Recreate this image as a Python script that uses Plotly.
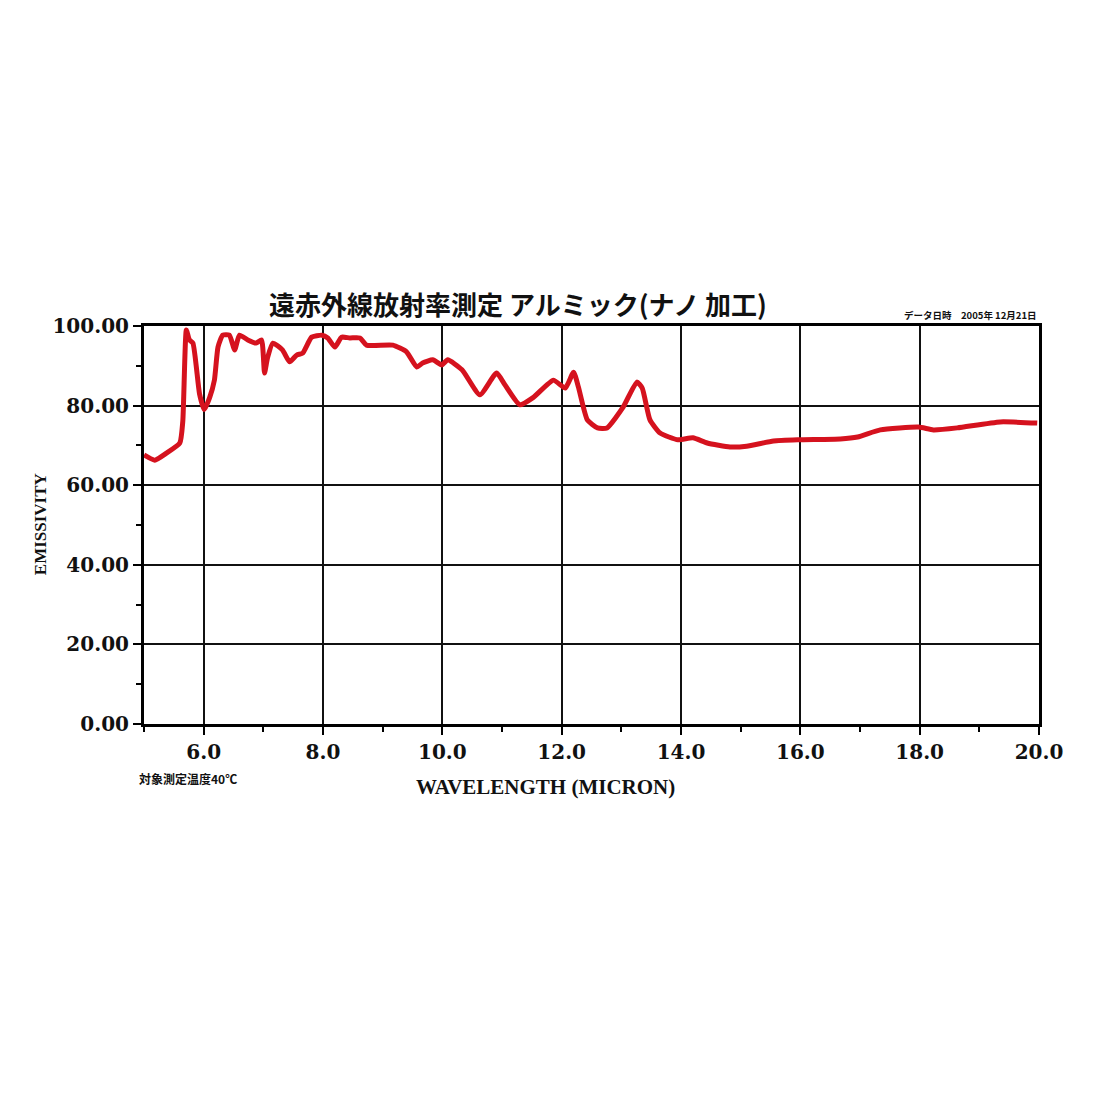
import plotly.graph_objects as go

wavelength = [5.0, 5.18, 5.37, 5.6, 5.65, 5.71, 5.76, 5.82, 5.93, 6.01, 6.1, 6.18, 6.24, 6.32, 6.43,
              6.52, 6.6, 6.74, 6.88, 6.97, 7.02, 7.07, 7.16, 7.32, 7.44, 7.56, 7.66, 7.81, 7.98, 8.08,
              8.2, 8.31, 8.45, 8.62, 8.73, 9.17, 9.4, 9.57, 9.67, 9.84, 9.99, 10.09, 10.33, 10.63, 10.91,
              11.05, 11.3, 11.52, 11.86, 12.06, 12.2, 12.28, 12.43, 12.6, 12.76, 13.03, 13.26, 13.35, 13.48,
              13.65, 13.95, 14.2, 14.44, 14.82, 15.1, 15.55, 15.97, 16.67, 16.96, 17.34, 17.98, 18.23, 18.63,
              19.35, 19.97]
emissivity = [67.6, 66.3, 68, 70.6, 76, 99, 96.5, 95.7, 83, 79, 82, 86.4, 94.7, 97.7, 97.7,
              94, 97.7, 96.5, 95.7, 96.5, 88.2, 92, 95.7, 94, 91, 92.7, 93.2, 97.2, 97.7, 97,
              94.7, 97.2, 97, 97, 95.2, 95.2, 93.5, 89.7, 90.7, 91.5, 90.2, 91.5, 89, 82.7, 88.2,
              85.2, 80.2, 82, 86.4, 84.4, 88.4, 84.7, 76.4, 74.4, 74.4, 79.6, 85.9, 84.4, 76.4,
              73.1, 71.4, 71.9, 70.6, 69.6, 69.8, 71.1, 71.4, 71.6, 72.1, 73.9, 74.6, 73.9, 74.4,
              75.9, 75.6]

x_ticks = [6, 8, 10, 12, 14, 16, 18, 20]
x_tick_labels = ["6.0", "8.0", "10.0", "12.0", "14.0", "16.0", "18.0", "20.0"]
y_ticks = [0, 20, 40, 60, 80, 100]
y_tick_labels = ["0.00", "20.00", "40.00", "60.00", "80.00", "100.00"]

title_text = "遠赤外線放射率測定 アルミック(ナノ 加工)"
date_text = "データ日時　2005年 12月21日"
note_text = "対象測定温度40℃"
x_title = "WAVELENGTH (MICRON)"
y_title = "EMISSIVITY"

serif = "DejaVu Serif"
serif2 = "Liberation Serif"
cjk = "Noto Sans CJK JP"

fig = go.Figure()
fig.add_trace(go.Scatter(
    x=wavelength, y=emissivity, mode="lines",
    line=dict(color="#d5121e", width=5, shape="spline", smoothing=0.5),
    showlegend=False, hoverinfo="x+y",
))

axis_common = dict(
    showline=True, linecolor="black", linewidth=3, mirror=True,
    showgrid=True, gridcolor="#111111", gridwidth=2,
    ticks="outside", ticklen=8, tickwidth=2, tickcolor="black",
    zeroline=False,
    tickfont=dict(family=serif, size=20, color="#111111", weight="bold"),
)

fig.update_xaxes(
    range=[5, 20], tickvals=x_ticks, ticktext=x_tick_labels,
    minor=dict(dtick=1, tick0=5, ticks="outside", ticklen=5, tickwidth=2, tickcolor="black", showgrid=False),
    **axis_common,
)
fig.update_yaxes(
    range=[0, 100], tickvals=y_ticks, ticktext=y_tick_labels,
    minor=dict(dtick=10, tick0=0, ticks="outside", ticklen=5, tickwidth=2, tickcolor="black", showgrid=False),
    **axis_common,
)

fig.update_layout(
    width=1100, height=1100,
    margin=dict(l=136, r=69, t=318, b=384),
    paper_bgcolor="white", plot_bgcolor="white",
    annotations=[
        dict(text=f"<b>{title_text}</b>", xref="paper", yref="paper", x=0.418, y=1.056,
             showarrow=False, xanchor="center", yanchor="middle",
             font=dict(family=cjk, size=26, color="#111111")),
        dict(text=f"<b>{date_text}</b>", xref="paper", yref="paper", x=1.0, y=1.028,
             showarrow=False, xanchor="right", yanchor="middle",
             font=dict(family=cjk, size=9.5, color="#111111")),
        dict(text=f"<b>{note_text}</b>", xref="paper", yref="paper", x=-0.008, y=-0.136,
             showarrow=False, xanchor="left", yanchor="middle",
             font=dict(family=cjk, size=12, color="#111111")),
        dict(text=f"<b>{x_title}</b>", xref="paper", yref="paper", x=0.449, y=-0.158,
             showarrow=False, xanchor="center", yanchor="middle",
             font=dict(family=serif2, size=21, color="#111111")),
        dict(text=f"<b>{y_title}</b>", xref="paper", yref="paper", x=-0.116, y=0.5025,
             showarrow=False, xanchor="center", yanchor="middle", textangle=-90,
             font=dict(family=serif2, size=17, color="#111111")),
    ],
)

fig.write_html("out.html")
